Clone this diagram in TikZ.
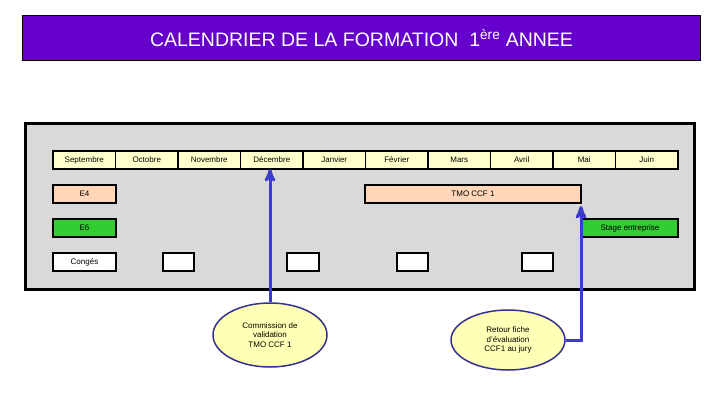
\documentclass[tikz,border=0pt]{standalone}
\usepackage{fontspec}
\setmainfont{Liberation Sans}
\usepackage{tikz}
\usetikzlibrary{arrows,calc,positioning,shapes.geometric}

\definecolor{violet1}{HTML}{6600CC}
\definecolor{fond}{HTML}{D9D9D9}
\definecolor{jaune}{HTML}{FFFFCC}
\definecolor{peche}{HTML}{FFD7B8}
\definecolor{vert}{HTML}{33CC33}
\definecolor{bulle}{HTML}{FFFFB5}
\definecolor{bleu}{HTML}{3B3BCC}
\definecolor{bord}{HTML}{33338F}

\begin{document}
\begin{tikzpicture}[x=1pt,y=-1pt,
    mois/.style={anchor=north west,rectangle,draw,line width=1.8pt,fill=jaune,outer sep=0pt,
      minimum width=62.5pt,minimum height=18pt,inner sep=0pt,text height=6pt,text depth=1.5pt,
      font=\fontsize{8}{9}\selectfont},
    barre/.style={anchor=north west,rectangle,draw,line width=1.8pt,outer sep=0pt,
      minimum height=18pt,inner sep=0pt,text height=6pt,text depth=1.5pt,
      font=\fontsize{8}{9}\selectfont},
    bulle/.style={ellipse,draw=bord,line width=1.5pt,fill=bulle,inner sep=0pt,align=center,
      font=\fontsize{8}{9.5}\selectfont},
    fleche/.style={>=stealth',->,line width=3pt,draw=bleu}]
    \useasboundingbox (0,0) rectangle (720,405);

    % titre
    \node at (22,15) [anchor=north west,rectangle,draw,fill=violet1,text=white,line width=1pt,
      minimum width=678pt,minimum height=45pt,font=\fontsize{19.5}{21}\selectfont]
      (titre) {CALENDRIER DE LA FORMATION\ \ 1\textsuperscript{ère} ANNEE};

    % cadre gris
    \node at (360,206.5) [rectangle,draw,fill=fond,line width=3pt,
      minimum width=669pt,minimum height=166pt] (cadre) {};

    % les mois
    \node at (53,151) [mois] (sep) {Septembre};
    \node at (sep.north east) [mois] (oct) {Octobre};
    \node at (oct.north east) [mois] (nov) {Novembre};
    \node at (nov.north east) [mois] (dec) {Décembre};
    \node at (dec.north east) [mois] (jan) {Janvier};
    \node at (jan.north east) [mois] (fev) {Février};
    \node at (fev.north east) [mois] (mar) {Mars};
    \node at (mar.north east) [mois] (avr) {Avril};
    \node at (avr.north east) [mois] (mai) {Mai};
    \node at (mai.north east) [mois] (juin) {Juin};

    % epreuves
    \node at (53,185) [barre,fill=peche,minimum width=63pt] (e4) {E4};
    \node at (365,185) [barre,fill=peche,minimum width=216pt] (tmo) {TMO CCF 1};
    \node at (53,219) [barre,fill=vert,minimum width=63pt] (e6) {E6};
    \node at (582,219) [barre,fill=vert,minimum width=96pt] (stage) {Stage entreprise};

    % conges
    \node at (53,253) [barre,fill=white,minimum width=63pt] (conges) {Congés};
    \node at (163,253) [barre,fill=white,minimum width=31pt] (vac1) {};
    \node at (287,253) [barre,fill=white,minimum width=32pt] (vac2) {};
    \node at (397,253) [barre,fill=white,minimum width=31pt] (vac3) {};
    \node at (522,253) [barre,fill=white,minimum width=31pt] (vac4) {};

    % bulles
    \node at (270,335) [bulle,minimum width=114pt,minimum height=64pt]
      (commission) {Commission de\\validation\\TMO CCF 1};
    \node at (508,340) [bulle,minimum width=114pt,minimum height=60pt]
      (retour) {Retour fiche\\d'évaluation\\CCF1 au jury};

    \draw[fleche] (commission.north) -- (commission.north |- dec.south);
    \draw[fleche] (retour.east) -| ([yshift=-3pt] tmo.south east);
\end{tikzpicture}
\end{document}
